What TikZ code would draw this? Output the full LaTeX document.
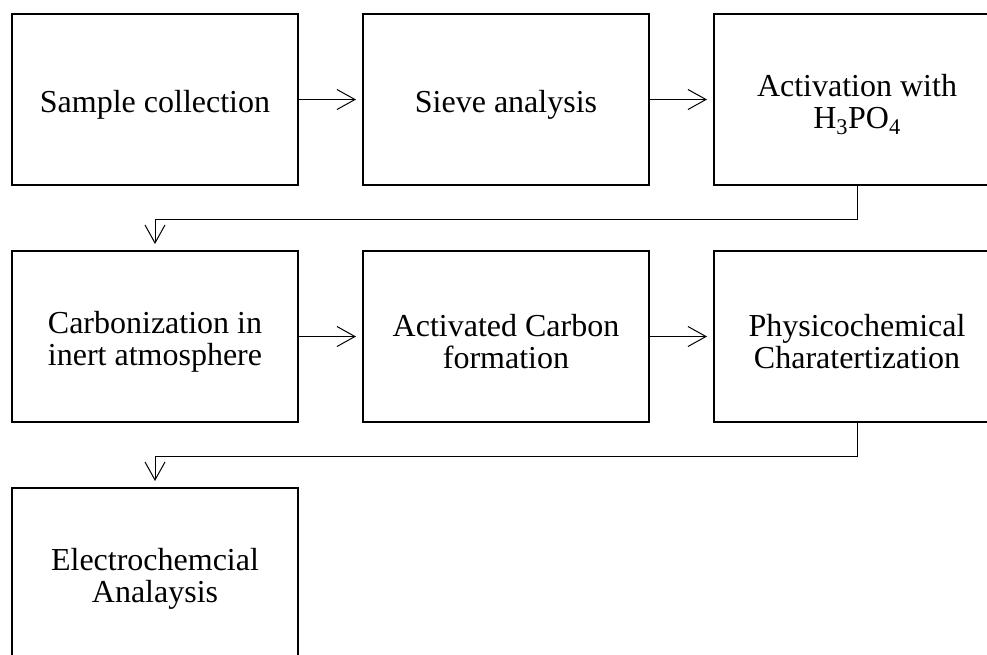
\documentclass[tikz,border=0pt]{standalone}
\usepackage{fontspec}
\setmainfont{Liberation Serif}
\usetikzlibrary{arrows.meta}
\newcommand{\upstrut}{\rule{0pt}{32pt}}
\begin{document}
\begin{tikzpicture}[x=1pt,y=-1pt,
  box/.style={draw=black,line width=2pt,minimum width=286pt,minimum height=171pt,inner sep=0pt,align=center,font=\fontsize{32}{32}\selectfont},
  conn/.style={draw=black,line width=1pt,shorten >=6pt,-{Straight Barb[length=18pt,width=20pt,line width=1pt]}}]
\useasboundingbox (0,0) rectangle (987,654);
\clip (0,0) rectangle (987,654);
\node[box] (b1) at (155,99.5) {\upstrut Sample collection};
\node[box] (b2) at (506,99.5) {\upstrut Sieve analysis};
\node[box] (b3) at (857,99.5) {\upstrut Activation with\\H\textsubscript{3}PO\textsubscript{4}};
\node[box] (b4) at (155,336.5) {\upstrut Carbonization in\\inert atmosphere};
\node[box] (b5) at (506,336.5) {\upstrut Activated Carbon\\formation};
\node[box] (b6) at (857,336.5) {\upstrut Physicochemical\\Charatertization};
\node[box] (b7) at (155,573.5) {\upstrut Electrochemcial\\Analaysis};
\draw[conn] (b1.east) -- (b2.west);
\draw[conn] (b2.east) -- (b3.west);
\draw[conn] (b4.east) -- (b5.west);
\draw[conn] (b5.east) -- (b6.west);
\draw[conn] (b3.south) -- ++(0,33.5) -| (b4.north);
\draw[conn] (b6.south) -- ++(0,33.5) -| (b7.north);
\end{tikzpicture}
\end{document}
